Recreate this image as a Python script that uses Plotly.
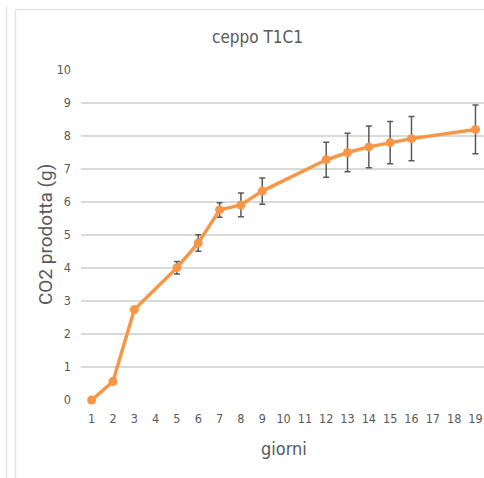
import plotly.graph_objects as go

giorni = [1, 2, 3, 5, 6, 7, 8, 9, 12, 13, 14, 15, 16, 19]
co2 = [0.0, 0.56, 2.74, 4.01, 4.76, 5.76, 5.91, 6.33, 7.28, 7.50, 7.67, 7.80, 7.92, 8.20]
err = [0.0, 0.0, 0.0, 0.19, 0.25, 0.22, 0.36, 0.40, 0.53, 0.58, 0.63, 0.64, 0.67, 0.74]
tick_vals = list(range(1, 20))
tick_text = [str(v) for v in tick_vals]

W, H = 484, 478
L, R, T, B = 81, 0, 70, 78
NARROW = "DejaVu Sans Condensed, Liberation Sans Narrow, Roboto"

def px(x):
    return (x - L) / (W - L - R)

def py(y):
    return (H - B - y) / (H - T - B)

fig = go.Figure()
fig.add_trace(go.Scatter(
    x=giorni, y=co2, mode="lines+markers",
    line=dict(color="#F79646", width=3.5),
    marker=dict(color="#F79646", size=9),
    error_y=dict(type="data", array=err, visible=True, color="#595959",
                 thickness=1.5, width=3),
    showlegend=False, cliponaxis=False,
))

grid = "#d9d9d9"
fig.update_layout(
    width=W, height=H,
    margin=dict(l=L, r=R, t=T, b=B),
    paper_bgcolor="white", plot_bgcolor="white",
    font=dict(family=NARROW, color="#595959", size=12),
    xaxis=dict(range=[0.5, 19.4], tickmode="array", tickvals=tick_vals, ticktext=tick_text,
               showgrid=False, zeroline=False, showline=False, ticks="",
               ticklabelstandoff=9,
               tickfont=dict(size=12.5, color="#595959", family=NARROW)),
    yaxis=dict(range=[0, 10], dtick=1, showgrid=True, gridcolor=grid, gridwidth=1.5,
               zeroline=False, showline=False, ticks="", ticklabelstandoff=9,
               tickfont=dict(size=12.5, color="#595959", family=NARROW)),
    annotations=[
        dict(text="ceppo T1C1", x=px(257), y=py(37), xref="paper", yref="paper",
             xanchor="center", yanchor="middle",
             showarrow=False, font=dict(size=17, color="#595959", family=NARROW)),
        dict(text="giorni", x=px(284), y=py(448), xref="paper", yref="paper",
             xanchor="center", yanchor="middle",
             showarrow=False, font=dict(size=18, color="#595959", family=NARROW)),
        dict(text="CO2 prodotta (g)", x=px(45), y=py(235), xref="paper", yref="paper",
             xanchor="center", yanchor="middle",
             showarrow=False, textangle=-90,
             font=dict(size=19, color="#595959", family="Roboto, Liberation Sans, Arial")),
    ],
    shapes=[
        dict(type="line", xref="paper", yref="paper", x0=px(6.5), x1=px(6.5),
             y0=py(7), y1=py(478), line=dict(color="#e3e3e3", width=1.5)),
        dict(type="line", xref="paper", yref="paper", x0=px(15.5), x1=px(15.5),
             y0=py(9.5), y1=py(478), line=dict(color="#e3e3e3", width=1.5)),
        dict(type="line", xref="paper", yref="paper", x0=px(15.5), x1=px(484),
             y0=py(9.5), y1=py(9.5), line=dict(color="#e3e3e3", width=1.5)),
    ],
)
fig.write_html("out.html")
